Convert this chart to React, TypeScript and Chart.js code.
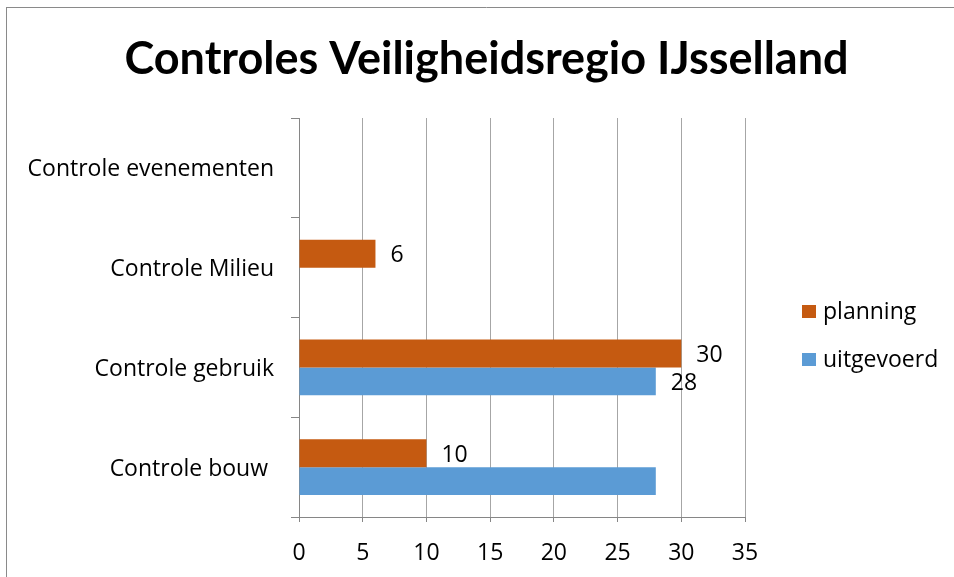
import React, { useEffect, useRef } from 'react';
import { Chart, registerables } from 'chart.js';

Chart.register(...registerables);

// ---- data ----
const titleText = 'Controles Veiligheidsregio IJsselland';
const categories = ['Controle evenementen', 'Controle Milieu', 'Controle gebruik', 'Controle bouw '];
const seriesNames = ['planning', 'uitgevoerd'];
const seriesColors = ['#C55A11', '#5B9BD5'];
const planning = [null, 6, 30, 10];
const uitgevoerd = [null, null, 28, 28];
const planningLabels = ['', '6', '30', '10'];
const uitgevoerdLabels = ['', '', '28', ''];
const xMin = 0;
const xMax = 35;
const xStep = 5;

const TITLE_FONT = 'Lato';
const FONT = '"Open Sans"';
const LABEL_SIZE = 23;

const framePlugin = {
  id: 'frame',
  beforeDraw(chart: any) {
    const { ctx, width, height } = chart;
    ctx.save();
    ctx.fillStyle = '#ffffff';
    ctx.fillRect(0, 0, width, height);
    ctx.strokeStyle = '#8a8a8a';
    ctx.lineWidth = 1;
    ctx.beginPath();
    ctx.moveTo(0, 0.5);
    ctx.lineTo(width, 0.5);
    ctx.moveTo(0.5, 0);
    ctx.lineTo(0.5, height);
    ctx.stroke();
    ctx.restore();
  },
};

const dataLabelPlugin = {
  id: 'dataLabels',
  afterDatasetsDraw(chart: any) {
    const { ctx } = chart;
    const labelSets = [planningLabels, uitgevoerdLabels];
    ctx.save();
    ctx.font = `${LABEL_SIZE}px ${FONT}`;
    ctx.fillStyle = '#000000';
    ctx.textAlign = 'left';
    ctx.textBaseline = 'middle';
    chart.data.datasets.forEach((_: any, di: number) => {
      const meta = chart.getDatasetMeta(di);
      meta.data.forEach((bar: any, i: number) => {
        const txt = labelSets[di][i];
        if (!txt) return;
        ctx.fillText(txt, bar.x + 15, bar.y + 2);
      });
    });
    ctx.restore();
  },
};

const legendPlugin = {
  id: 'customLegend',
  afterDraw(chart: any) {
    const { ctx } = chart;
    const boxX = 796;
    const textX = 817;
    const y0 = 304.5;
    const gap = 48;
    ctx.save();
    ctx.font = `${LABEL_SIZE}px ${FONT}`;
    ctx.textAlign = 'left';
    ctx.textBaseline = 'middle';
    chart.data.datasets.forEach((ds: any, i: number) => {
      const cy = y0 + i * gap;
      ctx.fillStyle = ds.backgroundColor;
      ctx.fillRect(boxX, cy - 6.5, 14, 13);
      ctx.fillStyle = '#000000';
      ctx.fillText(ds.label, textX, cy + 1);
    });
    ctx.restore();
  },
};

export default function App() {
  const ref = useRef<HTMLCanvasElement | null>(null);

  useEffect(() => {
    let chart: Chart | null = null;
    let cancelled = false;
    const make = () => {
      if (cancelled || !ref.current) return;
      chart = new Chart(ref.current, {
        type: 'bar',
        data: {
          labels: categories,
          datasets: [
            { label: seriesNames[0], data: planning as any, backgroundColor: seriesColors[0] },
            { label: seriesNames[1], data: uitgevoerd as any, backgroundColor: seriesColors[1] },
          ],
        },
        options: {
          indexAxis: 'y',
          responsive: false,
          animation: false,
          devicePixelRatio: 1,
          datasets: { bar: { categoryPercentage: 0.56, barPercentage: 1.0 } },
          layout: { padding: 0 },
          plugins: {
            legend: { display: false },
            tooltip: { enabled: false },
            title: {
              display: true,
              text: titleText,
              color: '#000000',
              font: { family: TITLE_FONT, size: 45, weight: 'bold', lineHeight: 1.2 },
              padding: { top: 25, bottom: 32 },
            },
          },
          scales: {
            x: {
              type: 'linear',
              min: xMin,
              max: xMax,
              ticks: {
                stepSize: xStep,
                color: '#000000',
                padding: 18,
                font: { family: FONT, size: LABEL_SIZE },
              },
              grid: { color: '#a6a6a6', tickColor: '#868686', tickLength: 5, drawTicks: true },
              border: { display: true, color: '#868686' },
              afterFit(scale: any) {
                scale.height = 70;
              },
            },
            y: {
              type: 'category',
              ticks: {
                color: '#000000',
                padding: 17,
                labelOffset: 2,
                font: { family: FONT, size: LABEL_SIZE },
              },
              grid: {
                drawOnChartArea: false,
                drawTicks: true,
                tickLength: 8,
                offset: true,
                color: '#868686',
              },
              border: { display: true, color: '#868686' },
              afterFit(scale: any) {
                scale.width = 293;
              },
            },
            legendSpace: {
              type: 'category',
              position: 'right',
              display: true,
              ticks: { display: false },
              grid: { display: false },
              border: { display: false },
              afterFit(scale: any) {
                scale.width = 222;
              },
            },
          },
        },
        plugins: [framePlugin, dataLabelPlugin, legendPlugin],
      });
    };
    const fonts: any = (document as any).fonts;
    if (fonts && fonts.load) {
      Promise.all([
        fonts.load(`${LABEL_SIZE}px ${FONT}`),
        fonts.load(`bold 45px ${TITLE_FONT}`),
      ]).then(make, make);
    } else {
      make();
    }
    return () => {
      cancelled = true;
      if (chart) chart.destroy();
    };
  }, []);

  return (
    <div style={{ position: 'absolute', left: 0, top: 0, width: 954, height: 577, overflow: 'hidden', background: '#fff' }}>
      <div style={{ position: 'absolute', left: 6, top: 7, width: 961, height: 580 }}>
        <canvas ref={ref} width={961} height={580} style={{ width: 961, height: 580, display: 'block' }} />
      </div>
    </div>
  );
}
